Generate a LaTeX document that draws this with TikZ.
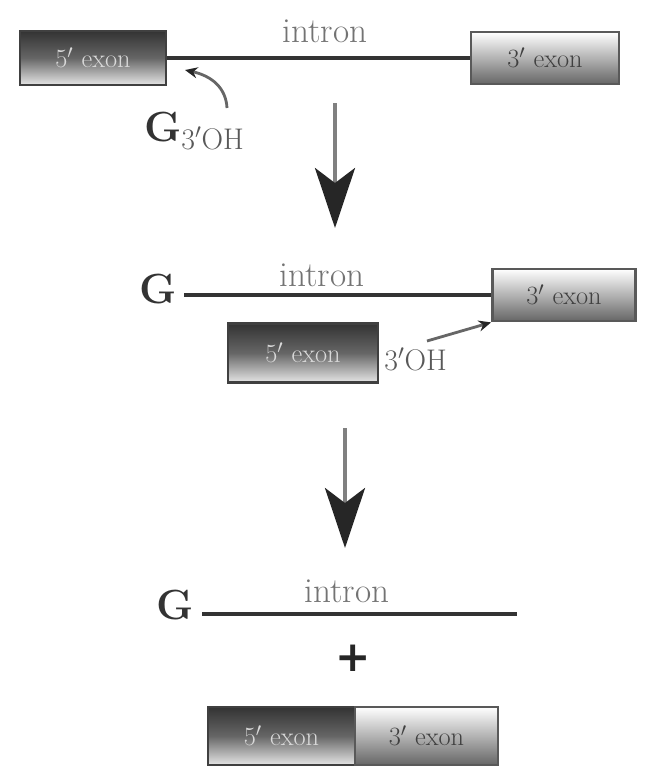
\documentclass[tikz,border=0pt]{standalone}
\usepackage{fontspec}
\newfontfamily\plusfont{DejaVu Sans}
\usetikzlibrary{arrows.meta}
\begin{document}
\begin{tikzpicture}[x=0.02cm,y=-0.02cm,
  exonfive/.style={draw=black!75,line width=1.6pt,inner sep=0pt,
    minimum width=#1*0.02cm,minimum height=1.08cm,
    top color=black!80,bottom color=white!90!black,middle color=black!60,
    text=white!85!black,font=\fontsize{15}{15}\selectfont},
  exonthree/.style={draw=black!65,line width=1.6pt,inner sep=0pt,
    minimum width=#1*0.02cm,minimum height=1.04cm,
    top color=white,bottom color=black!60,
    text=black!75,font=\fontsize{15}{15}\selectfont},
  intronline/.style={line width=2.6pt,draw=black!80},
  intronlabel/.style={text=black!55,font=\fontsize{20}{20}\selectfont,inner sep=0pt},
  gnuc/.style={font=\bfseries\fontsize{24}{24}\selectfont,text=black!80,inner sep=0pt},
  ohlabel/.style={font=\fontsize{17}{17}\selectfont,text=black!65,inner sep=0pt},
  stagearrow/.style={line width=2.3pt,draw=black!50,
    -{Stealth[length=1.2cm,width=0.8cm,inset=0.3cm,color=black!85]}},
  attack/.style={line width=1.6pt,draw=black!60,
    -{Stealth[length=0.25cm,width=0.22cm,color=black!85]}}
]
\useasboundingbox (0,0) rectangle (645,771);

% ---- precursor: 5' exon, intron, 3' exon ----
\node[exonfive=146] (e5a) at (93,58) {5$'$ exon};
\node[exonthree=148] (e3a) at (545,58) {3$'$ exon};
\draw[intronline] (e5a.east) -- (e3a.west);
\node[intronlabel] (ina) at (325,31) {intron};
\node[gnuc] (ga) at (163,127) {G};
\node[ohlabel,anchor=west] (oha) at (181,138) {3$'$OH};
\coordinate (atka) at (227,108);
\coordinate (sitea) at (185,70);
\draw[attack] (atka) .. controls (226,88) and (212,76) .. (sitea);

% ---- first step ----
\coordinate (s1a) at (335,103);
\coordinate (s1b) at (335,228);
\draw[stagearrow] (s1a) -- (s1b);

% ---- intermediate: G-intron-3' exon plus free 5' exon ----
\node[gnuc] (gb) at (158,289) {G};
\node[exonthree=143] (e3b) at (564,295) {3$'$ exon};
\coordinate (lb) at (184,295);
\draw[intronline] (lb) -- (e3b.west);
\node[intronlabel] (inb) at (322,275) {intron};
\node[exonfive=150,minimum height=1.18cm] (e5b) at (303,353) {5$'$ exon};
\node[ohlabel,anchor=west] (ohb) at (384,359) {3$'$OH};
\coordinate (atkb) at (427,341);
\draw[attack] (atkb) -- (e3b.south west);

% ---- second step ----
\coordinate (s2a) at (345,428);
\coordinate (s2b) at (345,548);
\draw[stagearrow] (s2a) -- (s2b);

% ---- products: excised intron and joined exons ----
\node[gnuc] (gc) at (175,605) {G};
\coordinate (lc1) at (202,614);
\coordinate (lc2) at (517,614);
\draw[intronline] (lc1) -- (lc2);
\node[intronlabel] (inc) at (347,591) {intron};
\node[font=\plusfont\bfseries\fontsize{24}{24}\selectfont,text=black!85,inner sep=0pt] (plus) at (353,658) {+};
\node[exonfive=147,minimum height=1.16cm] (e5c) at (281.5,736) {5$'$ exon};
\node[exonthree=143,minimum height=1.16cm] (e3c) at (426.5,736) {3$'$ exon};
\end{tikzpicture}
\end{document}
